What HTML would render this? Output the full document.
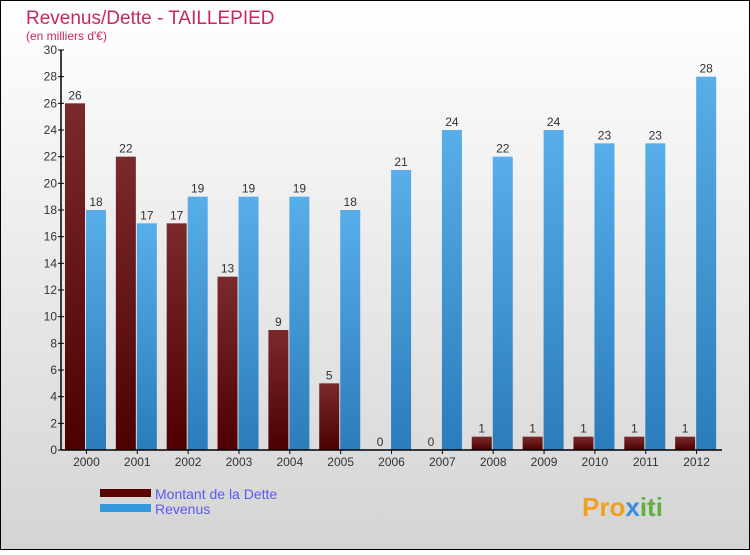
<!DOCTYPE html>
<html><head><meta charset="utf-8"><style>
body{margin:0}
svg text{font-family:"Liberation Sans",sans-serif}
</style></head><body>
<svg id="c" width="750" height="550" xmlns="http://www.w3.org/2000/svg">
<defs>
<linearGradient id="bg" x1="0" y1="0" x2="0" y2="1"><stop offset="0" stop-color="#ffffff"/><stop offset="1" stop-color="#d4d4d4"/></linearGradient>
<linearGradient id="gd" x1="0" y1="0" x2="0" y2="1"><stop offset="0" stop-color="#7a2a2a"/><stop offset="1" stop-color="#4e0000"/></linearGradient>
<linearGradient id="gr" x1="0" y1="0" x2="0" y2="1"><stop offset="0" stop-color="#58aee8"/><stop offset="1" stop-color="#2a7cba"/></linearGradient>
</defs>
<rect x="0.5" y="0.5" width="749" height="549" fill="url(#bg)" stroke="#000"/>
<text x="26" y="24" font-size="19" fill="#c8285a">Revenus/Dette - TAILLEPIED</text>
<text x="26" y="40" font-size="12" fill="#c8285a">(en milliers d'€)</text>
<g id="plot"></g>
<g>
<rect x="100" y="489" width="51" height="8" fill="#5a0000"/>
<text x="155" y="499" font-size="14" fill="#5a5aee">Montant de la Dette</text>
<rect x="100" y="504" width="51" height="8" fill="#3399dd"/>
<text x="155" y="514" font-size="14" fill="#5a5aee">Revenus</text>
</g>
<text x="582" y="516" font-size="26" font-weight="bold" fill="#f0a020">Pro<tspan fill="#3a8ee0">x</tspan><tspan fill="#60b040">iti</tspan></text>
</svg>
<script>
const years=["2000","2001","2002","2003","2004","2005","2006","2007","2008","2009","2010","2011","2012"];
const dette=[26,22,17,13,9,5,0,0,1,1,1,1,1];
const revenus=[18,17,19,19,19,18,21,24,22,24,23,23,28];
const yTicks=[0,2,4,6,8,10,12,14,16,18,20,22,24,26,28,30];
const NS="http://www.w3.org/2000/svg";
const g=document.getElementById('plot');
const x0=61,x1=722,y0=450,yTop=50,yMax=30;
const step=(x1-x0)/years.length;
const ys=v=>y0-(v/yMax)*(y0-yTop);
function mk(t,a){const e=document.createElementNS(NS,t);for(const k in a)e.setAttribute(k,a[k]);g.appendChild(e);return e;}
yTicks.forEach(v=>{
 const t=mk('line',{x1:x0-3,x2:x0+3,y1:ys(v),y2:ys(v),stroke:'#000'});
 
 
 const l=mk('text',{x:x0-4,y:ys(v)+4,'font-size':12,'text-anchor':'end',fill:'#333'});
 l.textContent=v;
 
 
});
years.forEach((yr,i)=>{
 const cx=x0+step*(i+0.5);
 const bx=x0+step*i+4;
 const hd=y0-ys(dette[i]);
 const b1=mk('rect',{x:bx,y:ys(dette[i]),width:20,height:hd,fill:'url(#gd)'});
 
 
 const b2=mk('rect',{x:bx+21,y:ys(revenus[i]),width:20,height:y0-ys(revenus[i]),fill:'url(#gr)'});
 
 
 const t1=mk('text',{x:bx+10,y:ys(dette[i])-4,'font-size':12,'text-anchor':'middle',fill:'#333'});
 t1.textContent=dette[i];
 
 
 const t2=mk('text',{x:bx+31,y:ys(revenus[i])-4,'font-size':12,'text-anchor':'middle',fill:'#333'});
 t2.textContent=revenus[i];
 
 
 const tk=mk('line',{x1:cx,x2:cx,y1:y0,y2:y0+4,stroke:'#000'});
 
 
 const xl=mk('text',{x:cx,y:y0+16,'font-size':12,'text-anchor':'middle',fill:'#333'});
 xl.textContent=yr;
 
 
});
const ya=mk('line',{x1:x0,x2:x0,y1:yTop,y2:y0,stroke:'#000','stroke-width':1.5});


const xa=mk('line',{x1:x0,x2:x1,y1:y0,y2:y0,stroke:'#000','stroke-width':1.5});


</script>
</body></html>
